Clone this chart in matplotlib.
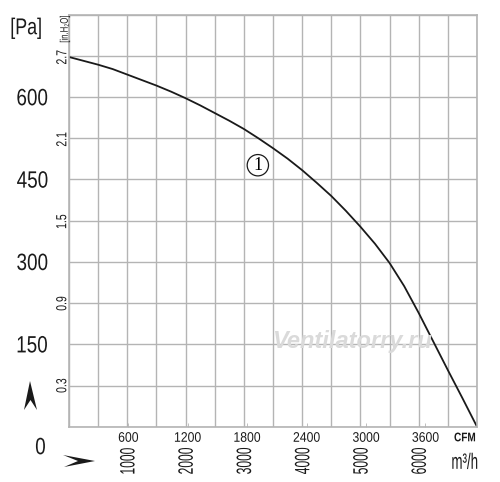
import numpy as np
import matplotlib.pyplot as plt
from matplotlib.patches import Polygon, PathPatch
from matplotlib.textpath import TextPath
from matplotlib.font_manager import FontProperties
from matplotlib.transforms import Affine2D

# curve: flow in m3/h, pressure in Pa
flow_m3h = [0, 250, 500, 750, 1000, 1250, 1500, 1750, 2000, 2250, 2500, 2750,
            3000, 3250, 3500, 3750, 4000, 4250, 4500, 4750, 5000, 5250, 5500,
            5750, 6000, 6250, 6500, 6750, 7000]
pressure_pa = [673, 666, 659, 651, 641, 631, 621, 610, 598, 585, 571, 557,
               542, 525, 507, 488, 467, 444, 420, 393, 364, 333, 298,
               256, 207, 155, 103, 52, 0]

pa_labels = [150, 300, 450, 600]
inh2o_labels = [0.3, 0.9, 1.5, 2.1, 2.7]
cfm_labels = [600, 1200, 1800, 2400, 3000, 3600]
m3h_labels = [1000, 2000, 3000, 4000, 5000, 6000]

PA_PER_INH2O = 249.09
M3H_PER_CFM = 1.699

fig = plt.figure(figsize=(5.0, 4.82), dpi=100)
ax = fig.add_axes([69 / 500, 1 - 426.7 / 482, 408 / 500, 412 / 482])

grid_c = "#b4b4b4"
ink = "#1a1a1a"
ax.set_xlim(0, 7000)
ax.set_ylim(0, 750)
ax.set_xticks(np.arange(0, 7001, 500))
ax.set_yticks(np.arange(0, 751, 75))
ax.grid(color=grid_c, lw=1.0)
ax.set_xticklabels([])
ax.set_yticklabels([])
ax.tick_params(which="major", length=0)
ax.set_xticks([c * M3H_PER_CFM for c in cfm_labels], minor=True)
ax.tick_params(which="minor", axis="x", direction="in", length=3, color=grid_c)
for s in ax.spines.values():
    s.set_color(grid_c)
    s.set_linewidth(1.2)

ax.plot(flow_m3h, pressure_pa, color=ink, lw=1.3)

# curve number
ax.text(3240, 476, "1", family=["Liberation Serif", "DejaVu Serif"], fontsize=13,
        ha="center", va="center",
        bbox=dict(boxstyle="circle,pad=0.12", fc="white", ec=ink, lw=0.9))

# watermark
ax.text(4850, 155, "Ventilatorry.ru", fontsize=17, style="italic", weight="bold",
        color="#dadada", ha="center", va="center",
        family=["Liberation Sans", "DejaVu Sans"])

K = fig.dpi / 72


def narrow_text(x, y, s, size, trans, rot=0, sx=0.8, weight="normal"):
    # condensed label: glyph outlines squeezed horizontally, centred on (x, y)
    fp = FontProperties(family=["Liberation Sans", "DejaVu Sans"], weight=weight)
    tp = TextPath((0, 0), s, size=size, prop=fp)
    bb = tp.get_extents()
    X, Y = trans.transform((x, y))
    t = (Affine2D().translate(-(bb.x0 + bb.x1) / 2, -(bb.y0 + bb.y1) / 2)
         .scale(sx * K, K).rotate_deg(rot).translate(X, Y))
    fig.patches.append(PathPatch(tp, transform=t, fc=ink, ec="none"))


ytr = ax.get_yaxis_transform()
xtr = ax.get_xaxis_transform()

for p in pa_labels:
    narrow_text(-0.09, p, str(p), 17, ytr, sx=0.8)
narrow_text(-0.07, -0.047, "0", 17, ax.transAxes, sx=0.8)
narrow_text(-0.105, 0.967, "[Pa]", 16.5, ax.transAxes, sx=0.78)

for v in inh2o_labels:
    narrow_text(-0.019, v * PA_PER_INH2O, f"{v:.1f}", 10.5, ytr, rot=90, sx=0.72)
narrow_text(-0.01, 0.965, "[in.H₂O]", 8, ax.transAxes, rot=90, sx=0.7)

for c in cfm_labels:
    narrow_text(c * M3H_PER_CFM, -0.025, str(c), 10, xtr, sx=0.88)
for m in m3h_labels:
    narrow_text(m, -0.083, str(m), 15, xtr, rot=90, sx=0.58)
narrow_text(0.97, -0.025, "CFM", 9, ax.transAxes, sx=0.8, weight="bold")
narrow_text(0.97, -0.083, "m³/h", 16, ax.transAxes, sx=0.6)


def px(x, y):
    return (x / 500, 1 - y / 482)


# little arrowheads beside the axes
up = [px(30, 381), px(37, 410), px(30.5, 400), px(24, 410)]
right = [px(95, 461), px(64, 467), px(78, 461), px(63, 455)]
for pts in (up, right):
    fig.patches.append(Polygon(pts, closed=True, fc=ink, ec="none",
                               transform=fig.transFigure))

fig.savefig("out.png", dpi=100)
